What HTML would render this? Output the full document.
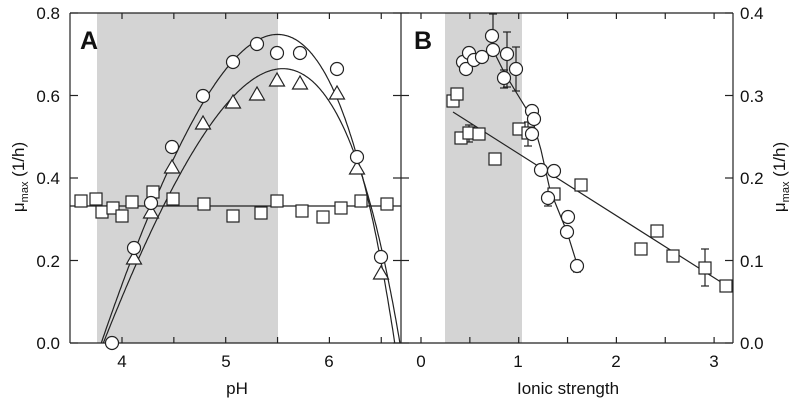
<!DOCTYPE html><html><head><style>body{margin:0;background:#fff}svg{display:block}text{font-family:"Liberation Sans",Arial,sans-serif;fill:#111}</style></head><body>
<svg id="s" width="800" height="401" viewBox="0 0 800 401">
<rect x="97" y="13" width="181" height="330" fill="#d4d4d4"/>
<rect x="445" y="13" width="77" height="330" fill="#d4d4d4"/>
<g id="g" fill="none" stroke="#222" stroke-width="1.2"></g>
<g font-size="17" text-anchor="end">
<text x="60" y="19">0.8</text><text x="60" y="102">0.6</text><text x="60" y="184">0.4</text><text x="60" y="267">0.2</text><text x="60" y="349">0.0</text>
</g>
<g font-size="17" text-anchor="start">
<text x="740" y="19">0.4</text><text x="740" y="102">0.3</text><text x="740" y="184">0.2</text><text x="740" y="267">0.1</text><text x="740" y="349">0.0</text>
</g>
<g font-size="17" text-anchor="middle">
<text x="122" y="367">4</text><text x="226" y="367">5</text><text x="329" y="367">6</text>
<text x="421" y="367">0</text><text x="518" y="367">1</text><text x="616" y="367">2</text><text x="714" y="367">3</text>
<text x="237" y="394">pH</text><text x="568" y="394">Ionic strength</text>
</g>
<text transform="translate(24,177) rotate(-90)" font-size="17" text-anchor="middle">μ<tspan font-size="11" dy="4">max</tspan><tspan dy="-4"> (1/h)</tspan></text>
<text transform="translate(785,177) rotate(-90)" font-size="17" text-anchor="middle">μ<tspan font-size="11" dy="4">max</tspan><tspan dy="-4"> (1/h)</tspan></text>
<text x="80" y="49" font-size="25" font-weight="bold">A</text>
<text x="414" y="49" font-size="25" font-weight="bold">B</text>
</svg>
<script>
var g=document.getElementById('g'),h='';
function L(a,b,c,d){h+='<line x1="'+a+'" y1="'+b+'" x2="'+c+'" y2="'+d+'"/>';}
L(70,13,733,13);L(70,343,733,343);L(70,13,70,343);L(733,13,733,343);L(401,13,401,343);
for(var i=0;i<5;i++){var y=13+i*82.5;L(70,y,78,y);L(725,y,733,y);L(393,y,409,y);}
for(var p=3.5;p<=6.6;p+=0.5){var x=122+(p-4)*103.7;if(x>72&&x<399){L(x,343,x,337);L(x,13,x,19);}}
for(var q=-0.5;q<=3.2;q+=0.5){var x=421+q*97.7;if(x>403&&x<731){L(x,343,x,337);L(x,13,x,19);}}
function X(p){return 122+(p-4)*103.7}function Y(v){return 343-v*412.5}
function cur(mo,mn,op,mx){var d='';for(var p=mn;p<=mx+1e-9;p+=0.01){var a=(p-mn)*(p-mx);var v=mo*a/(a-(p-op)*(p-op));d+=(d?'L':'M')+X(p).toFixed(1)+','+Y(Math.max(v,0)).toFixed(1);}h+='<path d="'+d+'"/>';}
cur(0.748,3.80,5.5,6.63);cur(0.665,3.82,5.55,6.68);
L(70,206,401,206);
L(453,112,724,284);
h+='<polyline points="493,50 504,72 516,92 532,118 541,150 550,190 567,232 577,264"/>';
[[493,14,50],[507,32,87],[516,47,91],[532,107,116],[548,193,206],[577,266,272],[469,125,142],[528,122,146],[705,249,286],[504,70,88]].forEach(function(e){L(e[0],e[1],e[0],e[2]);L(e[0]-4,e[1],e[0]+4,e[1]);L(e[0]-4,e[2],e[0]+4,e[2]);});
var o='';
function C(x,y){o+='<circle cx="'+x+'" cy="'+y+'" r="6.5"/>';}
function S(x,y){o+='<rect x="'+(x-6)+'" y="'+(y-6)+'" width="12" height="12"/>';}
function T(x,y){o+='<polygon points="'+x+','+(y-7)+' '+(x-7.5)+','+(y+6)+' '+(x+7.5)+','+(y+6)+'"/>';}
[[81,201],[96,199],[102,212],[113,208],[122,216],[132,202],[153,192],[173,199],[204,204],[233,216],[261,213],[277,201],[302,211],[323,217],[341,208],[361,201],[387,204]].forEach(function(a){S(a[0],a[1])});
[[134,258],[151,212],[172,167],[203,123],[233,102],[257,94],[277,80],[300,83],[337,93],[357,168],[381,273]].forEach(function(a){T(a[0],a[1])});
[[112,343],[134,248],[151,203],[172,147],[203,96],[233,62],[257,44],[277,53],[300,53],[337,69],[357,157],[381,257]].forEach(function(a){C(a[0],a[1])});
[[453,101],[457,94],[461,138],[469,133],[479,134],[495,159],[519,129],[528,133],[554,194],[581,185],[641,249],[657,231],[673,256],[705,268],[726,286]].forEach(function(a){S(a[0],a[1])});
[[492,36],[493,50],[463,62],[466,69],[469,53],[474,60],[482,57],[507,54],[504,78],[516,69],[532,111],[534,119],[532,134],[541,170],[554,171],[548,198],[568,217],[567,232],[577,266]].forEach(function(a){C(a[0],a[1])});
g.innerHTML=h+'<g fill="#fff" stroke="#222" stroke-width="1.2">'+o+'</g>';
</script>
</body></html>
